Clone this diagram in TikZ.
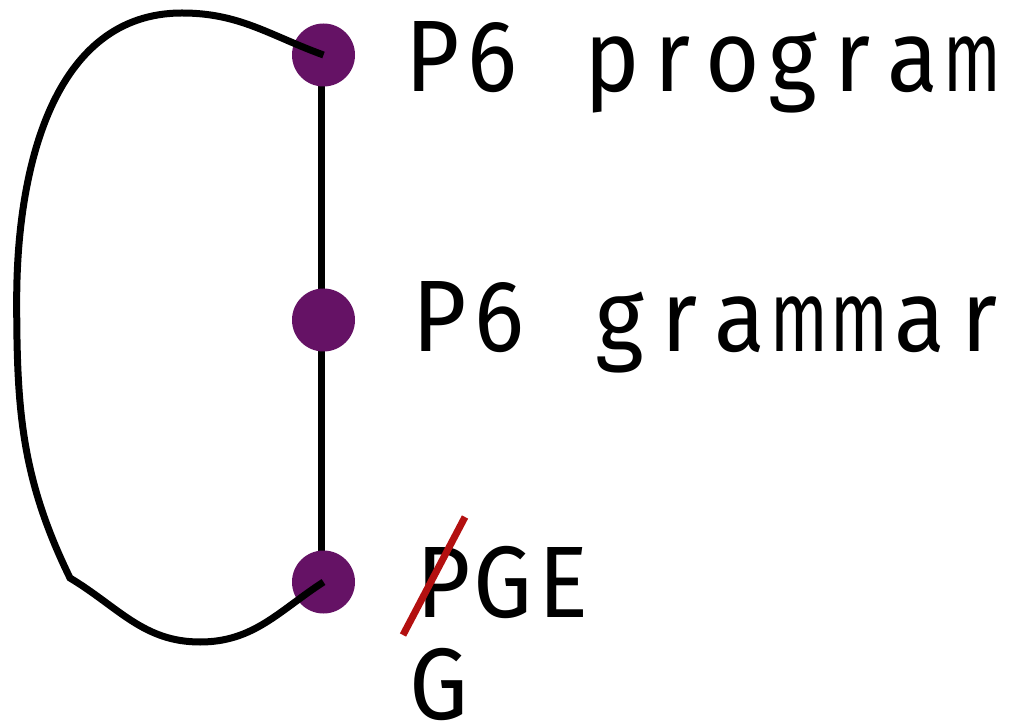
\documentclass[tikz,border=0pt]{standalone}
\usepackage{fontspec}
\usepackage{graphicx}
\newfontfamily\labelfont[FakeStretch=0.92]{Fira Sans}
\newcommand\cellch[1]{\makebox[60pt][c]{#1}}
\newcommand\cellm{\makebox[60pt][c]{\scalebox{0.72}[1]{m}}}
\definecolor{dotpurple}{HTML}{651265}
\definecolor{strikered}{HTML}{B31010}
\tikzset{
  dot/.style={circle, fill=dotpurple, minimum size=63pt, inner sep=0pt, draw=none},
  lbl/.style={anchor=base west, inner sep=0pt, outer sep=0pt, font=\labelfont\fontsize{101.6}{120}\selectfont},
  link/.style={line width=7pt, black},
}
\begin{document}
\begin{tikzpicture}[x=1pt,y=1pt]
\useasboundingbox (0,0) rectangle (1016,726);
\coordinate (c1) at (321,671);
\coordinate (c2) at (321,406);
\coordinate (c3) at (321,144);
\draw[link] (c1) -- (c2) -- (c3);
\node[dot] (n1) at (323.5,671) {};
\node[dot] (n2) at (323.5,406) {};
\node[dot] (n3) at (323.5,144) {};
\coordinate (top) at (182,713);
\coordinate (left) at (16.7,426);
\coordinate (kink) at (70,148);
\coordinate (bottom) at (200,84);
\draw[link] (n1.center) to[out=160,in=0] (top)
  to[out=180,in=90] (left)
  to[out=270,in=116] (kink)
  to[out=-31,in=180] (bottom)
  to[out=0,in=213] (n3.center);
\node[lbl] (t1) at (402.5,634) {\cellch{P}\cellch{6}\cellch{}\cellch{p}\cellch{r}\cellch{o}\cellch{g}\cellch{r}\cellch{a}\cellm};
\node[lbl] (t2) at (409.5,374) {\cellch{P}\cellch{6}\cellch{}\cellch{g}\cellch{r}\cellch{a}\cellm\cellm\cellch{a}\cellch{r}};
\node[lbl] (t3) at (413.5,109) {\cellch{P}\cellch{G}\cellch{E}};
\node[lbl] (t4) at (409,7) {\cellch{G}};
\coordinate (s1) at (403,91);
\coordinate (s2) at (465,209);
\draw[line width=7pt, strikered] (s1) -- (s2);
\end{tikzpicture}
\end{document}
